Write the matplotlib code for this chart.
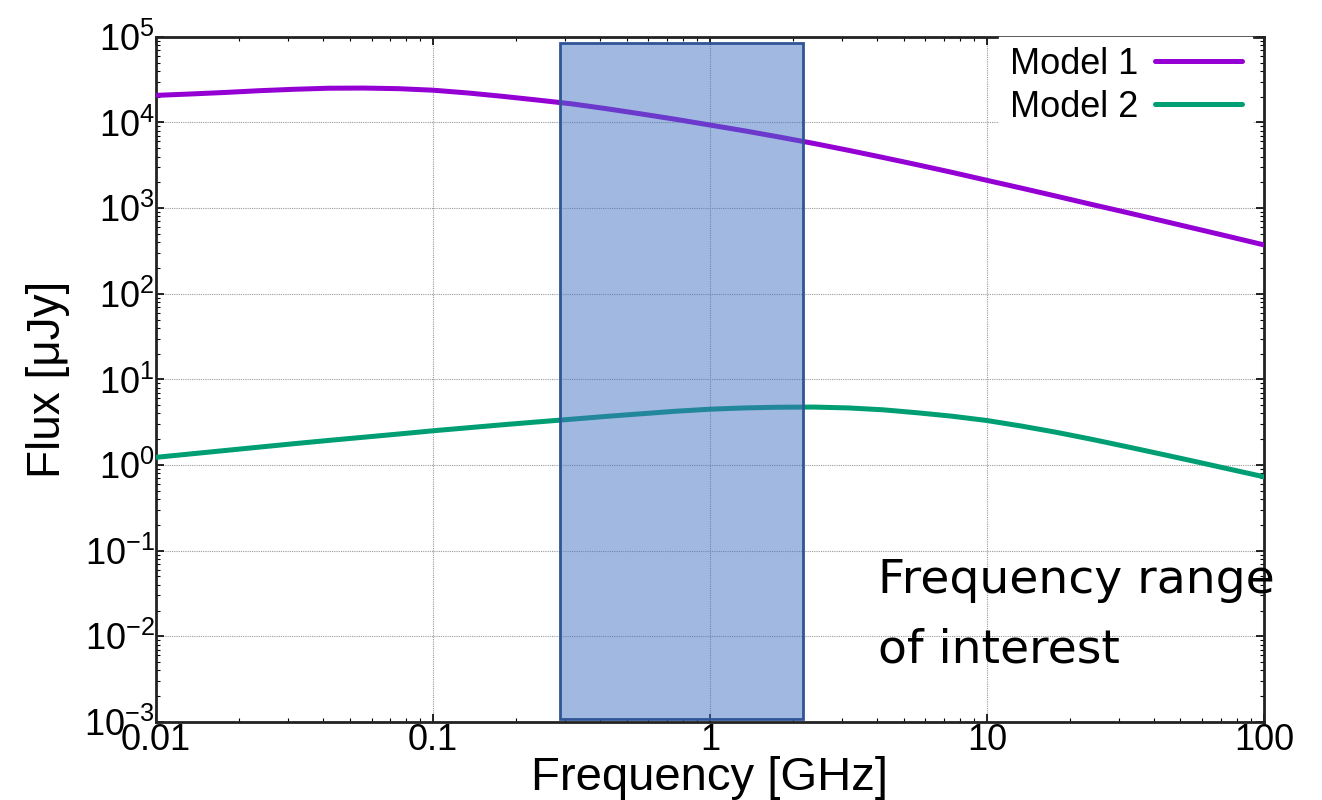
import numpy as np
import matplotlib
matplotlib.use("Agg")
import matplotlib.pyplot as plt
from matplotlib.ticker import FixedLocator, FuncFormatter, LogLocator, NullFormatter
from matplotlib.patches import Rectangle

# ---- data ----
freq_ghz = [0.01, 0.01334, 0.01778, 0.02371, 0.03162, 0.04217, 0.05623, 0.07499,
            0.1, 0.1334, 0.1778, 0.2371, 0.3162, 0.4217, 0.5623, 0.7499,
            1.0, 1.334, 1.778, 2.371, 3.162, 4.217, 5.623, 7.499,
            10.0, 13.34, 17.78, 23.71, 31.62, 42.17, 56.23, 74.99, 100.0]
model1 = [20700, 21500, 22400, 23500, 24400, 25100, 25200, 24800,
          23800, 22100, 20200, 18300, 16500, 14500, 12600, 10900,
          9330, 7980, 6760, 5690, 4730, 3900, 3200, 2610,
          2110, 1710, 1380, 1110, 897, 721, 579, 465, 372]
model2 = [1.230, 1.349, 1.479, 1.622, 1.778, 1.941, 2.113, 2.301,
          2.512, 2.723, 2.951, 3.184, 3.428, 3.698, 3.963, 4.246,
          4.487, 4.645, 4.732, 4.753, 4.645, 4.416, 4.074, 3.715,
          3.311, 2.851, 2.415, 2.009, 1.652, 1.352, 1.104, 0.897, 0.730]
series_labels = ["Model 1", "Model 2"]
band_lo, band_hi = 0.287, 2.17
band_top = 8.5e4
band_bottom = 1.08e-3
xtick_vals = [0.01, 0.1, 1, 10, 100]
xtick_labels = ["0.01", "0.1", "1", "10", "100"]
ytick_exps = [-3, -2, -1, 0, 1, 2, 3, 4, 5]

plt.rcParams['font.family'] = ['Liberation Sans', 'DejaVu Sans']
plt.rcParams['mathtext.fontset'] = 'custom'
plt.rcParams['mathtext.rm'] = 'Liberation Sans'
plt.rcParams['mathtext.default'] = 'regular'

fig = plt.figure(figsize=(13.22, 8.0), dpi=100)
ax = fig.add_axes([0.118, 0.0975, 0.838, 0.8565])
ax.set_xscale('log')
ax.set_yscale('log')
ax.set_xlim(0.01, 100)
ax.set_ylim(1e-3, 1e5)

ax.plot(freq_ghz, model1, color='#9400D3', lw=3.6, label=series_labels[0], zorder=3,
        solid_capstyle='round', solid_joinstyle='round')
ax.plot(freq_ghz, model2, color='#009E73', lw=3.6, label=series_labels[1], zorder=3,
        solid_capstyle='round', solid_joinstyle='round')

rect = Rectangle((band_lo, band_bottom), band_hi - band_lo, band_top - band_bottom,
                 facecolor=(0x44/255, 0x72/255, 0xC4/255, 0.5),
                 edgecolor='#2F5597', lw=2.0, zorder=4)
ax.add_patch(rect)

# ticks
ax.xaxis.set_major_locator(FixedLocator(xtick_vals))
ax.xaxis.set_major_formatter(FuncFormatter(lambda v, p: xtick_labels[xtick_vals.index(v)] if v in xtick_vals else ""))
ax.xaxis.set_minor_locator(LogLocator(base=10, subs=np.arange(2, 10), numticks=20))
ax.xaxis.set_minor_formatter(NullFormatter())
ax.yaxis.set_major_locator(FixedLocator([10.0**e for e in ytick_exps]))
ax.yaxis.set_major_formatter(FuncFormatter(lambda v, p: r'$10^{%d}$' % int(round(np.log10(v)))))
ax.yaxis.set_minor_locator(LogLocator(base=10, subs=np.arange(2, 10), numticks=20))
ax.yaxis.set_minor_formatter(NullFormatter())

ax.tick_params(which='both', direction='in', top=True, right=True, colors='black')
ax.tick_params(which='major', length=6, width=1.2, labelsize=26)
ax.tick_params(which='minor', length=3, width=0.8)
ax.tick_params(axis='x', which='major', pad=1)
ax.tick_params(axis='y', which='major', pad=1)

for s in ax.spines.values():
    s.set_linewidth(2.0)
    s.set_color('#222222')

ax.grid(True, which='major', color='#9a9a9a', lw=0.8, ls=(0, (1, 1)), zorder=1)

ax.set_xlabel('Frequency [GHz]', fontsize=34, labelpad=-2)
ax.set_ylabel('Flux [μJy]', fontsize=33, labelpad=10)

leg = ax.legend(loc='upper right', bbox_to_anchor=(0.989, 1.0), fontsize=26,
                markerfirst=False, frameon=True,
                fancybox=False, framealpha=1.0, edgecolor='white', facecolor='white',
                handlelength=2.4, handletextpad=0.47, borderaxespad=0.0,
                labelspacing=0.22, borderpad=0.28)
for t in leg.get_texts():
    t.set_ha('right')
leg.set_zorder(5)

ax.text(0.6516, 0.2394, 'Frequency range\nof interest', transform=ax.transAxes,
        fontsize=34, family=['DejaVu Sans'], fontweight='normal',
        ha='left', va='top', linespacing=1.7, zorder=6, clip_on=False)

fig.savefig('out.png', dpi=100)
